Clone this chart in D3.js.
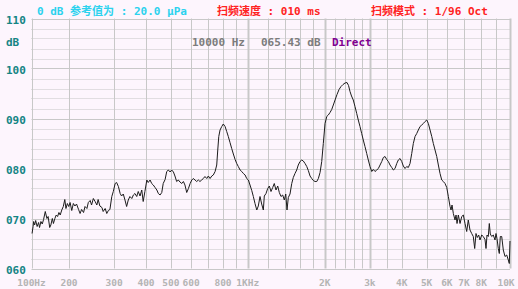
<!DOCTYPE html>
<html lang="zh">
<head>
<meta charset="UTF-8">
<title>扫频响应</title>
<script src="https://cdn.jsdelivr.net/npm/d3@7"></script>
<style>
  body { margin: 0; padding: 0; background: #fdf5fd; }
  svg { display: block; }
  text {
    font-family: "DejaVu Sans Mono", "Liberation Mono", "Noto Sans CJK SC", monospace;
    font-weight: bold;
    font-size: 11px;
  }
</style>
</head>
<body>
<svg id="chart" width="518" height="289"></svg>
<script>
// measured response, Hz / dB
const freq = [
  101,103,104,106,108,111,114,116,119,122,125,129,133,136,140,143,147,150,154,158,
  162,166,170,175,180,185,189,194,199,202,205,208,211,214,218,221,224,228,231,235,
  238,242,245,249,253,257,260,264,269,272,277,281,285,289,294,298,303,307,312,317,
  321,326,331,336,341,346,352,357,362,368,373,379,385,390,396,403,408,415,421,427,
  434,441,447,454,461,467,475,482,489,497,504,512,519,527,535,543,552,560,568,577,
  586,595,604,612,622,631,641,650,660,670,680,691,701,712,723,733,745,756,763,770,
  779,791,802,815,827,839,852,865,878,892,905,918,933,947,961,976,990,1005,1020,1036,
  1051,1067,1084,1099,1116,1133,1150,1160,1178,1196,1214,1232,1251,1269,1289,1309,1328,1348,1369,1389,
  1407,1423,1440,1462,1485,1506,1529,1553,1575,1600,1625,1648,1674,1700,1724,1751,1778,1804,1832,1860,
  1887,1916,1945,1973,2004,2035,2064,2096,2128,2159,2193,2232,2273,2314,2356,2399,2442,2476,2509,2543,
  2584,2624,2665,2703,2745,2787,2827,2871,2916,2958,3004,3051,3095,3143,3191,3238,3288,3339,3387,3439,
  3492,3543,3597,3653,3706,3763,3821,3876,3936,3996,4054,4117,4180,4241,4306,4373,4436,4505,4574,4641,
  4713,4786,4855,4930,5006,5079,5157,5237,5312,5394,5477,5557,5642,5729,5812,5902,5993,6080,6174,6229,
  6285,6359,6457,6516,6575,6652,6755,6859,6958,7055,7148,7237,7333,7430,7523,7605,7682,7760,7845,7924,
  8029,8130,8238,8302,8367,8451,8517,8583,8677,8785,8902,8971,9041,9132,9204,9276,9377,9494,9620,9748,
  9870,9946,10000
];
const level = [
  67.0,68.4,69.4,68.7,69.6,68.4,69.2,68.2,69.4,68.9,69.8,71.4,70.0,70.4,68.2,68.7,70.0,69.0,70.0,70.7,
  70.4,71.2,70.7,71.7,72.4,73.8,72.0,73.0,72.4,73.2,71.6,73.0,72.5,72.9,71.8,71.0,71.8,71.2,72.4,72.0,
  73.2,73.6,72.7,74.0,73.4,72.7,73.8,72.5,72.2,71.4,72.0,71.0,71.6,71.8,74.4,75.4,77.0,77.2,76.4,75.0,
  74.5,74.9,73.7,72.4,73.7,74.4,74.0,74.7,75.0,74.4,75.4,74.5,75.7,73.4,75.4,77.7,77.2,77.7,77.0,76.7,
  76.2,75.7,75.0,74.7,75.2,77.0,77.8,79.4,79.7,79.3,79.7,79.3,78.5,77.4,77.7,77.3,77.0,77.4,76.7,75.2,
  76.0,77.0,77.7,78.0,77.7,77.4,77.7,77.4,77.7,78.0,78.4,78.0,78.5,78.0,78.5,78.7,79.4,80.7,83.7,86.4,
  87.7,88.4,88.9,88.4,87.4,86.4,85.2,84.0,82.9,81.8,81.0,80.4,79.7,79.4,79.0,78.7,78.0,77.7,76.7,75.6,
  74.4,73.0,71.7,72.5,74.4,72.9,71.7,74.5,75.0,76.0,76.5,75.4,76.2,77.0,75.7,76.5,75.2,74.4,74.7,73.7,
  74.9,71.7,74.2,74.9,77.0,78.2,79.0,79.7,80.7,81.4,81.7,81.5,81.0,80.4,79.6,78.5,78.0,77.6,77.4,77.4,
  78.0,79.2,81.4,85.0,89.0,90.4,90.7,91.2,91.8,92.7,93.7,94.8,95.8,96.4,96.8,97.1,97.2,96.6,95.4,94.5,
  93.7,92.4,91.0,89.7,88.4,87.0,85.7,84.4,83.0,81.7,80.4,79.4,79.8,79.4,79.7,80.0,80.7,81.4,82.2,82.4,
  81.8,81.4,80.7,80.2,79.7,80.0,81.0,81.7,82.0,81.4,80.5,80.0,80.4,80.2,81.0,83.0,85.0,86.4,87.0,87.7,
  88.4,88.7,89.0,89.4,89.7,89.0,87.7,86.4,85.0,83.7,82.4,80.7,79.0,77.7,77.4,77.0,76.2,74.4,72.4,71.7,
  72.7,71.0,69.7,70.7,69.0,70.7,69.0,70.4,70.7,69.0,67.4,69.7,67.7,67.0,66.4,64.0,67.0,66.2,66.7,65.7,
  66.7,66.4,65.8,64.0,66.7,66.4,69.0,66.9,66.4,66.7,65.7,67.0,66.0,64.0,63.0,66.4,66.4,63.7,62.4,62.7,
  61.7,61.0,65.5
];

const gridFreqs = [100,200,300,400,500,600,700,800,900,1000,1200,1400,1600,1800,2000,
  2200,2400,2600,2800,3000,3500,4000,5000,6000,7000,8000,9000,10000];
const heavyFreqs = [1000, 2000, 3000, 10000];
const tickFreqs = [100,200,300,400,500,600,800,1000,2000,3000,4000,5000,6000,7000,8000,10000];
const tickLabels = ["100Hz","200","300","400","500","600","800","1KHz","2K","3k","4K","5K","6K","7K","8K","10K"];
const dbTicks = [110,100,90,80,70,60];
const dbLabels = ["110","100","090","080","070","060"];
const dbMinor = d3.range(60, 110, 2).filter(v => v % 10 !== 0);

const svg = d3.select('#chart');

// the analyser axis is squeezed below 200 Hz, so the log scale is piecewise
const x = d3.scaleLog()
  .domain([100, 200, 7000, 10000])
  .range([31.5, 69, 464, 510]);
const y = d3.scaleLinear().domain([60, 110]).range([268.5, 18.5]);

const px = v => Math.round(v) + 0.5;

const grid = svg.append('g');
grid.selectAll('line.minor')
  .data(dbMinor)
  .enter().append('line')
  .attr('x1', x(100)).attr('x2', x(10000))
  .attr('y1', d => px(y(d))).attr('y2', d => px(y(d)))
  .attr('stroke', '#c4c4c4')
  .attr('stroke-dasharray', '1,1');
grid.selectAll('line.major')
  .data(dbTicks)
  .enter().append('line')
  .attr('x1', x(100)).attr('x2', x(10000))
  .attr('y1', d => px(y(d))).attr('y2', d => px(y(d)))
  .attr('stroke', '#c8c8c8');
grid.selectAll('line.vert')
  .data(gridFreqs)
  .enter().append('line')
  .attr('x1', d => px(x(d))).attr('x2', d => px(x(d)))
  .attr('y1', y(110)).attr('y2', y(60))
  .attr('stroke', '#c8c8c8')
  .attr('stroke-width', d => heavyFreqs.includes(d) ? 2 : 1);

// y labels
svg.selectAll('text.db')
  .data(dbTicks)
  .enter().append('text')
  .attr('x', 6)
  .attr('y', d => y(d) + 5)
  .attr('fill', '#148484')
  .text((d, i) => dbLabels[i]);
svg.append('text').attr('x', 6).attr('y', 46).attr('fill', '#148484').text('dB');

// x labels (last one kept inside the window)
svg.selectAll('text.hz')
  .data(tickFreqs)
  .enter().append('text')
  .attr('x', d => Math.min(x(d), 506))
  .attr('y', 286)
  .attr('text-anchor', 'middle')
  .attr('fill', '#b4b4b4')
  .attr('font-weight', 'normal')
  .style('font-size', '9.5px')
  .text((d, i) => tickLabels[i]);

// header
svg.append('text').attr('x', 37).attr('y', 15).attr('fill', '#2cd2ee').text('0 dB 参考值为 : 20.0 μPa');
svg.append('text').attr('x', 217).attr('y', 15).attr('fill', '#ff2222').text('扫频速度 : 010 ms');
svg.append('text').attr('x', 371).attr('y', 15).attr('fill', '#ff2222').text('扫频模式 : 1/96 Oct');

// cursor readout
svg.append('text').attr('x', 192).attr('y', 46).attr('fill', '#7c7c7c').text('10000 Hz');
svg.append('text').attr('x', 261).attr('y', 46).attr('fill', '#7c7c7c').text('065.43 dB');
svg.append('text').attr('x', 332).attr('y', 46).attr('fill', '#800090').text('Direct');

// response curve
const line = d3.line()
  .x((d, i) => x(freq[i]))
  .y(d => y(d));
svg.append('path')
  .datum(level)
  .attr('d', line)
  .attr('fill', 'none')
  .attr('stroke', '#1c1c1c')
  .attr('stroke-width', 1);
</script>
</body>
</html>
